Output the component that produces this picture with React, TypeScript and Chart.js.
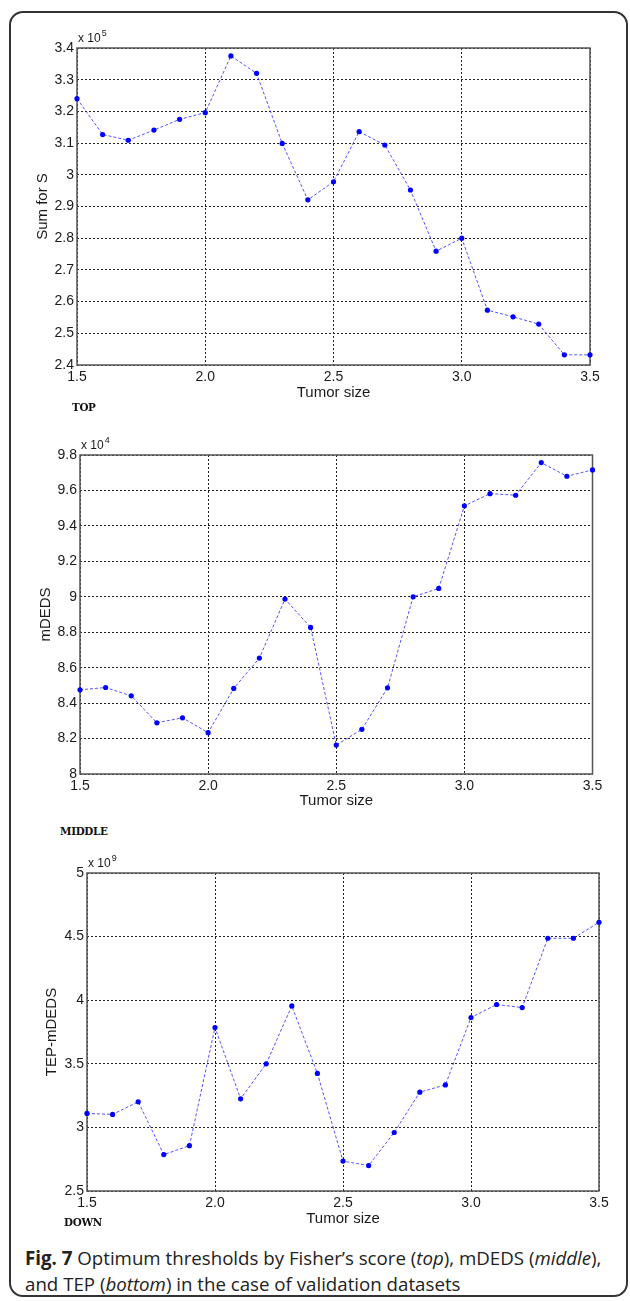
import React, { useEffect, useRef } from "react";
import { Chart, registerables } from "chart.js";

Chart.register(...registerables);

// ---------- data ----------
const tumorSize = [1.5, 1.6, 1.7, 1.8, 1.9, 2.0, 2.1, 2.2, 2.3, 2.4, 2.5, 2.6, 2.7, 2.8, 2.9, 3.0, 3.1, 3.2, 3.3, 3.4, 3.5];
const sumForS = [3.240, 3.127, 3.109, 3.141, 3.175, 3.196, 3.375, 3.320, 3.099, 2.921, 2.978, 3.136, 3.094, 2.952, 2.759, 2.800, 2.573, 2.552, 2.529, 2.432, 2.432];
const mDEDS = [8.475, 8.488, 8.441, 8.289, 8.317, 8.233, 8.483, 8.654, 8.987, 8.827, 8.163, 8.252, 8.486, 9.000, 9.047, 9.513, 9.582, 9.573, 9.757, 9.680, 9.716];
const tepMDEDS = [3.110, 3.102, 3.201, 2.786, 2.856, 3.785, 3.225, 3.500, 3.955, 3.424, 2.735, 2.700, 2.960, 3.277, 3.334, 3.864, 3.966, 3.942, 4.487, 4.487, 4.613];

const xTicks = [1.5, 2.0, 2.5, 3.0, 3.5];
const sumTicks = [2.4, 2.5, 2.6, 2.7, 2.8, 2.9, 3.0, 3.1, 3.2, 3.3, 3.4];
const mdedsTicks = [8.0, 8.2, 8.4, 8.6, 8.8, 9.0, 9.2, 9.4, 9.6, 9.8];
const tepTicks = [2.5, 3.0, 3.5, 4.0, 4.5, 5.0];

const xTitle = "Tumor size";

// ---------- layout ----------
type Panel = {
  values: number[];
  yTicks: number[];
  yTitle: string;
  exponent: string;
  canvasTop: number;
  plotTop: number;
  plotBottom: number;
  plotLeft: number;
  plotRight: number;
  yTitleCenter: number;
  xTitleOffset: number;
  label: string;
  labelLeft: number;
  labelTop: number;
};

const X_AXIS_H = 40;

const panels: Panel[] = [
  {
    values: sumForS, yTicks: sumTicks, yTitle: "Sum for S", exponent: "5",
    canvasTop: 20, plotTop: 48, plotBottom: 365, plotLeft: 77, plotRight: 590,
    yTitleCenter: 43, xTitleOffset: 28, label: "TOP", labelLeft: 72, labelTop: 401,
  },
  {
    values: mDEDS, yTicks: mdedsTicks, yTitle: "mDEDS", exponent: "4",
    canvasTop: 430, plotTop: 455, plotBottom: 774, plotLeft: 80, plotRight: 592.5,
    yTitleCenter: 46, xTitleOffset: 27, label: "MIDDLE", labelLeft: 60, labelTop: 825,
  },
  {
    values: tepMDEDS, yTicks: tepTicks, yTitle: "TEP-mDEDS", exponent: "9",
    canvasTop: 850, plotTop: 873, plotBottom: 1191, plotLeft: 87, plotRight: 599,
    yTitleCenter: 52, xTitleOffset: 28, label: "DOWN", labelLeft: 64, labelTop: 1216,
  },
];

const fmtY = (v: number) => String(Number(v.toFixed(3)));

const framePlugin = {
  id: "frame",
  beforeDatasetsDraw(chart: any) {
    const { ctx, chartArea } = chart;
    ctx.save();
    ctx.strokeStyle = "#555";
    ctx.lineWidth = 1.5;
    ctx.setLineDash([]);
    ctx.strokeRect(chartArea.left, chartArea.top, chartArea.right - chartArea.left, chartArea.bottom - chartArea.top);
    ctx.restore();
  },
  afterDraw(chart: any, _args: any, opts: any) {
    const { ctx, chartArea } = chart;
    if (!opts || !opts.exponent) return;
    ctx.save();
    ctx.fillStyle = "#1a1a1a";
    ctx.textBaseline = "alphabetic";
    ctx.textAlign = "left";
    ctx.font = "12px 'Liberation Sans', Arial, sans-serif";
    const base = "x 10";
    const x0 = chartArea.left + 1;
    const y0 = chartArea.top - 6;
    ctx.fillText(base, x0, y0);
    const w = ctx.measureText(base).width;
    ctx.font = "9px 'Liberation Sans', Arial, sans-serif";
    ctx.fillText(opts.exponent, x0 + w + 1, y0 - 6);
    ctx.restore();
  },
};

function PanelChart({ p }: { p: Panel }) {
  const ref = useRef<HTMLCanvasElement | null>(null);
  const height = p.plotBottom + X_AXIS_H - p.canvasTop;

  useEffect(() => {
    if (!ref.current) return;
    const chart = new Chart(ref.current, {
      type: "line",
      data: {
        datasets: [
          {
            data: tumorSize.map((x, i) => ({ x, y: p.values[i] })),
            borderColor: "rgba(40,40,255,0.8)",
            borderWidth: 1,
            borderDash: [3, 2],
            pointRadius: 2.6,
            pointBackgroundColor: "#0000ff",
            pointBorderWidth: 0,
            pointHoverRadius: 2.6,
            tension: 0,
            fill: false,
            clip: false as any,
          },
        ],
      },
      options: {
        animation: false,
        responsive: false,
        events: [],
        layout: {
          padding: { top: p.plotTop - p.canvasTop, right: 630 - p.plotRight, bottom: 0, left: 0 },
        },
        plugins: {
          legend: { display: false },
          tooltip: { enabled: false },
          frame: { exponent: p.exponent },
        } as any,
        scales: {
          x: {
            type: "linear",
            min: 1.5,
            max: 3.5,
            afterBuildTicks: (s: any) => { s.ticks = xTicks.map((v) => ({ value: v })); },
            afterFit: (s: any) => { s.height = X_AXIS_H; },
            grid: { color: "#222", lineWidth: 1, drawTicks: false },
            border: { display: false, dash: [2, 2] },
            ticks: {
              padding: 4,
              color: "#1a1a1a",
              font: { family: "'Liberation Sans', Arial, sans-serif", size: 14 },
              maxRotation: 0,
              autoSkip: false,
              callback: (v: any) => Number(v).toFixed(1),
            },
            title: {
              display: true,
              text: xTitle,
              color: "#1a1a1a",
              font: { family: "'Liberation Sans', Arial, sans-serif", size: 15 },
              padding: { top: 0, bottom: X_AXIS_H - p.xTitleOffset - 9 },
            },
          },
          y: {
            type: "linear",
            min: p.yTicks[0],
            max: p.yTicks[p.yTicks.length - 1],
            afterBuildTicks: (s: any) => { s.ticks = p.yTicks.map((v) => ({ value: v })); },
            afterFit: (s: any) => { s.width = p.plotLeft; },
            grid: { color: "#222", lineWidth: 1, drawTicks: false },
            border: { display: false, dash: [2, 2] },
            ticks: {
              padding: 3,
              color: "#1a1a1a",
              font: { family: "'Liberation Sans', Arial, sans-serif", size: 14 },
              autoSkip: false,
              callback: (v: any) => fmtY(Number(v)),
            },
            title: {
              display: true,
              text: p.yTitle,
              color: "#1a1a1a",
              font: { family: "'Liberation Sans', Arial, sans-serif", size: 15 },
              padding: { top: p.yTitleCenter - 9, bottom: 0 },
            },
          },
        },
      },
      plugins: [framePlugin],
    } as any);
    return () => chart.destroy();
  }, [p]);

  return (
    <canvas
      ref={ref}
      width={630}
      height={height}
      style={{ position: "absolute", left: 0, top: p.canvasTop, width: 630, height }}
    />
  );
}

export default function App() {
  return (
    <div style={{ position: "absolute", left: 0, top: 0, width: 630, height: 1301, background: "#fff", overflow: "hidden" }}>
      <div
        style={{
          position: "absolute", left: 9, top: 11, width: 619, height: 1286,
          border: "2px solid #333", borderRadius: 14, boxSizing: "border-box",
        }}
      />
      {panels.map((p, i) => (
        <PanelChart key={i} p={p} />
      ))}
      {panels.map((p, i) => (
        <div
          key={"l" + i}
          style={{
            position: "absolute", left: p.labelLeft, top: p.labelTop,
            fontFamily: "'DejaVu Serif Condensed', 'DejaVu Serif', serif",
            fontStretch: "condensed", fontWeight: 700, fontSize: 11.5, color: "#111",
            lineHeight: "13px", whiteSpace: "nowrap", letterSpacing: "-0.3px",
          }}
        >
          {p.label}
        </div>
      ))}
      <div
        style={{
          position: "absolute", left: 25, top: 1245, width: 605,
          fontFamily: "'Open Sans', 'Noto Sans', sans-serif", fontSize: 18.7, lineHeight: "26px",
          color: "#222", whiteSpace: "nowrap",
        }}
      >
        <b>Fig. 7</b> Optimum thresholds by Fisher’s score (<i>top</i>), mDEDS (<i>middle</i>),
        <br />
        and TEP (<i>bottom</i>) in the case of validation datasets
      </div>
    </div>
  );
}
